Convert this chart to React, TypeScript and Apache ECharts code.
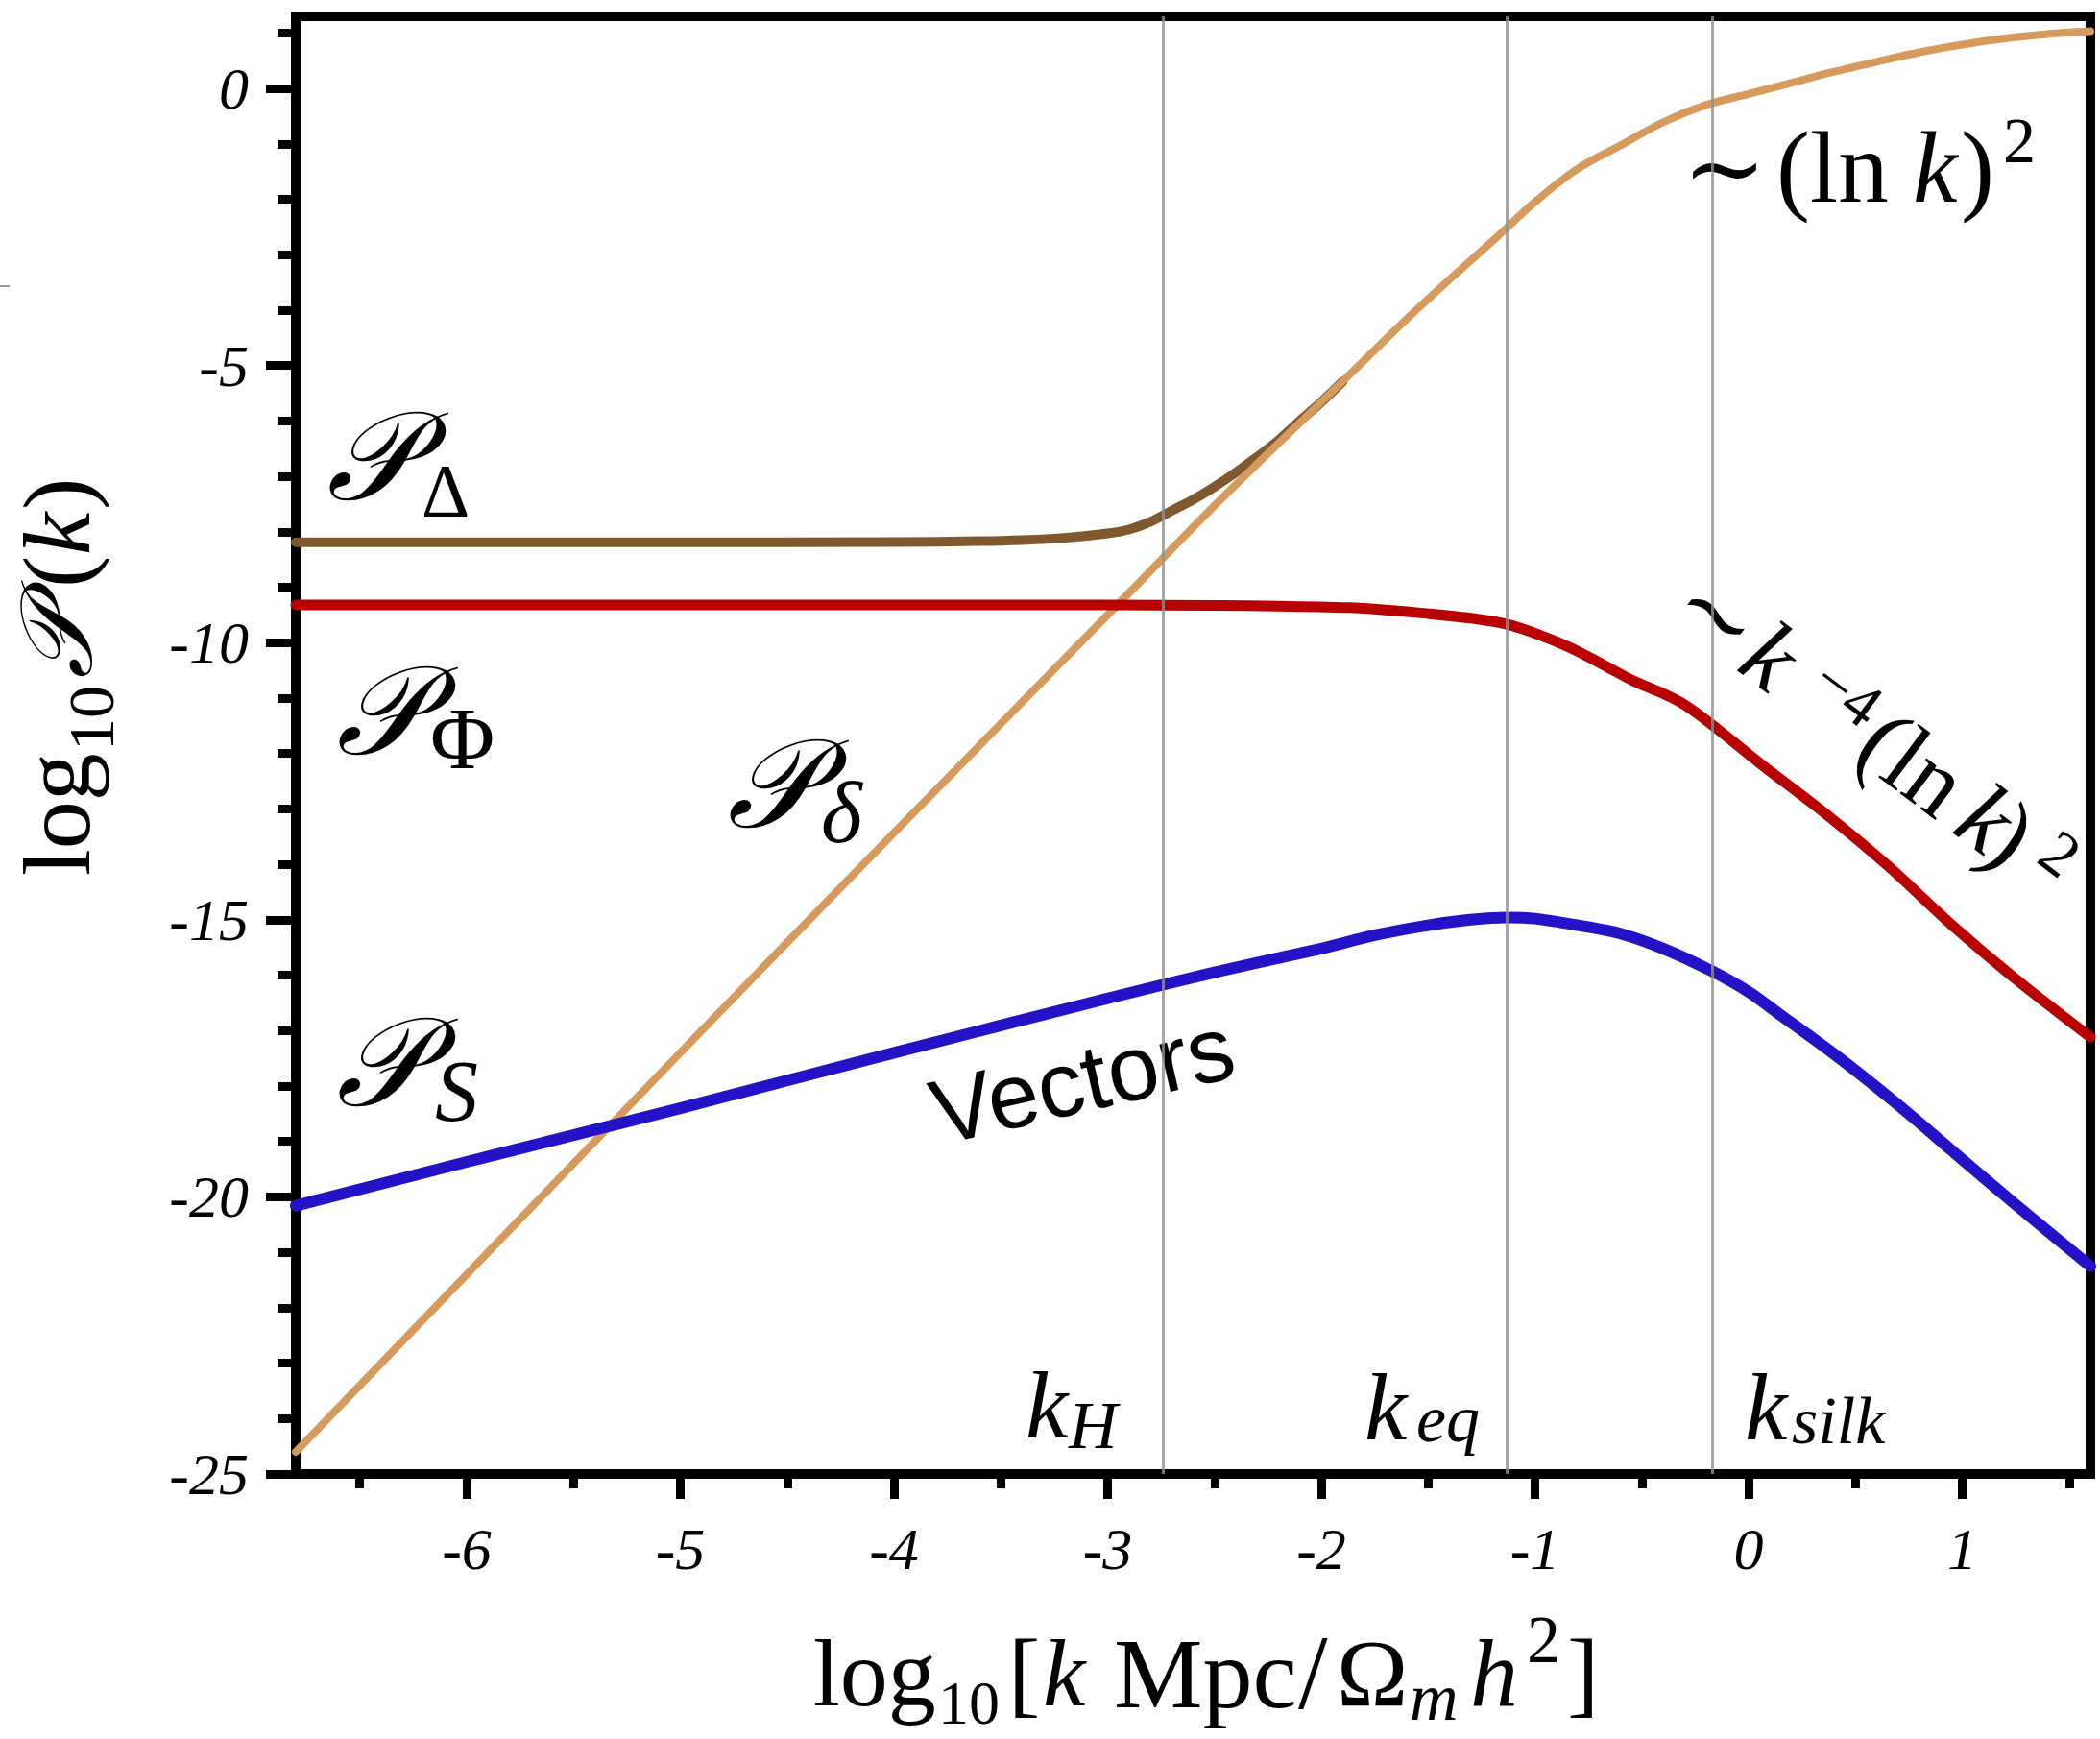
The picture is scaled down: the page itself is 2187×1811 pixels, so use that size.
import React, { useEffect, useRef } from "react";
import * as echarts from "echarts";

const W = 2187;
const H = 1811;

// Axis ranges and ticks
const xMin = -6.8;
const xMax = 1.6;
const yMin = -25;
const yMax = 1.3;
const xMajorTicks = [-6, -5, -4, -3, -2, -1, 0, 1];
const xMinorTicks = [-6.5, -5.5, -4.5, -3.5, -2.5, -1.5, -0.5, 0.5, 1.5];
const yMajorTicks = [-25, -20, -15, -10, -5, 0];
const yMinorTicks = [-24, -23, -22, -21, -19, -18, -17, -16, -14, -13, -12, -11, -9, -8, -7, -6, -4, -3, -2, -1, 1];

// Characteristic scales: k_H, k_eq, k_silk
const kScales = [-2.74, -1.13, -0.17];

// P_delta (density contrast)
const deltaK = [-6.8, -6, -5, -4, -3, -2.5, -2, -1.8, -1.6, -1.4, -1.2, -1.0, -0.8, -0.6, -0.4, -0.2, 0, 0.2, 0.4, 0.6, 0.8, 1.0, 1.2, 1.4, 1.6];
const deltaP = [-24.6, -21.4, -17.4, -13.43, -9.5, -7.53, -5.66, -4.91, -4.16, -3.45, -2.76, -2.05, -1.45, -1.03, -0.61, -0.3, -0.1, 0.1, 0.3, 0.48, 0.65, 0.79, 0.9, 0.98, 1.03];

// P_Delta
const bigDeltaK = [-6.8, -5, -4, -3.6, -3.4, -3.2, -3.0, -2.9, -2.8, -2.7, -2.6, -2.5, -2.4, -2.3, -2.2, -2.1, -2.0, -1.9];
const bigDeltaP = [-8.19, -8.19, -8.185, -8.17, -8.15, -8.11, -8.03, -7.96, -7.82, -7.62, -7.42, -7.19, -6.93, -6.65, -6.35, -6.0, -5.66, -5.29];

// P_Phi
const phiK = [-6.8, -5, -4, -3, -2.5, -2.2, -1.87, -1.7, -1.52, -1.3, -1.13, -0.98, -0.83, -0.68, -0.54, -0.4, -0.3, -0.175, 0.054, 0.355, 0.656, 0.953, 1.25, 1.6];
const phiP = [-9.32, -9.32, -9.32, -9.32, -9.33, -9.34, -9.37, -9.41, -9.47, -9.56, -9.67, -9.86, -10.1, -10.4, -10.69, -10.92, -11.12, -11.47, -12.18, -13.07, -14.04, -15.1, -16.07, -17.12];

// P_S (vectors)
const vecK = [-6.8, -6, -5, -4, -3, -2.5, -2, -1.75, -1.5, -1.3, -1.13, -1.0, -0.8, -0.6, -0.4, -0.175, 0, 0.15, 0.35, 0.5, 0.75, 0.953, 1.25, 1.6];
const vecP = [-20.16, -19.37, -18.4, -17.4, -16.42, -15.95, -15.52, -15.28, -15.1, -15.0, -14.96, -14.98, -15.1, -15.25, -15.52, -15.92, -16.3, -16.72, -17.28, -17.72, -18.5, -19.17, -20.14, -21.25];

const SERIF = '"Liberation Serif", "Times New Roman", "DejaVu Serif", serif';
const SCRIPT_P = "\u{1D4AB}";

const zip = (xs: number[], ys: number[]) => xs.map((x, i) => [x, ys[i]]);

const font = (size: number, italic = false, family = SERIF) =>
  `${italic ? "italic " : ""}${size}px ${family}`;

const t = (text: string, x: number, y: number, size: number, italic = false): any => ({
  type: "text",
  x,
  y,
  silent: true,
  style: {
    text,
    font: font(size, italic),
    fill: "#000",
    align: "left",
    verticalAlign: "middle",
    textAlign: "left",
    textVerticalAlign: "middle",
  },
});

export default function App() {
  const ref = useRef<HTMLDivElement>(null);

  useEffect(() => {
    document.body.style.margin = "0";
    if (!ref.current) return;
    const chart = echarts.init(ref.current, null, { renderer: "svg" });

    const tickStyle = { color: "#000", width: 9 };
    const labelStyle = {
      fontFamily: SERIF,
      fontStyle: "italic",
      fontSize: 62,
      color: "#000",
    };

    const graphic: any[] = [
      { type: "line", silent: true, shape: { x1: 0, y1: 298, x2: 10, y2: 298 }, style: { stroke: "#999", lineWidth: 2 } },
      // P_Delta
      t(SCRIPT_P, 340, 476, 130, true),
      t("Δ", 439, 510, 78),
      // P_Phi
      t(SCRIPT_P, 350, 741, 130, true),
      t("Φ", 448, 769, 92),
      // P_S
      t(SCRIPT_P, 350, 1107, 130, true),
      t("S", 453, 1136, 90, true),
      // P_delta
      t(SCRIPT_P, 757, 817, 130, true),
      t("δ", 855, 846, 92, true),
      // Vectors
      {
        type: "text",
        x: 1127,
        y: 1124,
        rotation: (13 * Math.PI) / 180,
        silent: true,
        style: {
          text: "Vectors",
          font: '96px "Liberation Sans", Arial, Helvetica, sans-serif',
          fill: "#000",
          align: "center",
          verticalAlign: "middle",
          textAlign: "center",
          textVerticalAlign: "middle",
        },
      },
      // ~ (ln k)^2
      t("∼", 1752, 175, 105),
      t("(ln", 1850, 174, 105),
      t("k", 1992, 174, 105, true),
      t(")", 2042, 174, 105),
      t("2", 2086, 146, 68),
      // ~ k^-4 (ln k)^2 rotated
      {
        type: "group",
        x: 1771,
        y: 639,
        rotation: (-37 * Math.PI) / 180,
        children: [
          t("∼", -27, -9, 100),
          t("k", 63, -9, 100, true),
          t("−4", 137, -27, 66),
          t("(ln", 215, -9, 100),
          t("k", 344, -9, 100, true),
          t(")", 381, -9, 100),
          t("2", 433, -26, 66),
        ],
      },
      // scale labels
      t("k", 1068, 1463, 100, true),
      t("H", 1113, 1484, 70, true),
      t("k", 1421, 1465, 100, true),
      t("eq", 1475, 1477, 70, true),
      t("k", 1817, 1465, 100, true),
      t("silk", 1866, 1479, 70, true),
      // x axis title
      t("log", 847, 1742, 100),
      t("10", 977, 1773, 64),
      t("[", 1050, 1742, 100),
      t("k", 1086, 1742, 100, true),
      t("Mpc", 1160, 1742, 104),
      t("/", 1352, 1742, 110),
      t("Ω", 1392, 1742, 100),
      t("m", 1468, 1767, 70, true),
      t("h", 1531, 1742, 100, true),
      t("2", 1590, 1707, 70),
      t("]", 1632, 1742, 100),
      // y axis title
      {
        type: "group",
        x: 93,
        y: 912,
        rotation: Math.PI / 2,
        children: [
          t("log", 0, -34, 100),
          t("10", 130, 2, 68),
          t(SCRIPT_P, 205, -34, 105, true),
          t("(", 300, -34, 100),
          t("k", 334, -34, 100, true),
          t(")", 381, -34, 100),
        ],
      },
    ];

    const lineSeries = (name: string, xs: number[], ys: number[], color: string, width: number, z: number, extra: any = {}) => ({
      type: "line",
      name,
      data: zip(xs, ys),
      xAxisIndex: 0,
      yAxisIndex: 0,
      showSymbol: false,
      symbol: "none",
      smooth: 0.3,
      silent: true,
      z,
      lineStyle: { color, width, cap: "round", join: "round" },
      ...extra,
    });

    const hiddenLine = { show: false, onZero: false };

    const option: any = {
      animation: false,
      backgroundColor: "#fff",
      grid: {
        left: 308,
        right: W - 2177,
        top: 17,
        bottom: H - 1535,
        show: true,
        borderColor: "#000",
        borderWidth: 10,
        backgroundColor: "transparent",
        containLabel: false,
      },
      xAxis: [
        {
          type: "value",
          min: xMin,
          max: xMax,
          position: "bottom",
          axisLine: hiddenLine,
          splitLine: { show: false },
          axisTick: { show: true, length: 26, customValues: xMajorTicks, lineStyle: tickStyle },
          axisLabel: { show: true, customValues: xMajorTicks, margin: 47, ...labelStyle, formatter: (v: number) => String(v) },
        },
        {
          type: "value",
          min: xMin,
          max: xMax,
          position: "bottom",
          axisLine: hiddenLine,
          splitLine: { show: false },
          axisTick: { show: true, length: 15, customValues: xMinorTicks, lineStyle: tickStyle },
          axisLabel: { show: false },
        },
      ],
      yAxis: [
        {
          type: "value",
          min: yMin,
          max: yMax,
          position: "left",
          axisLine: hiddenLine,
          splitLine: { show: false },
          axisTick: { show: true, length: 31, customValues: yMajorTicks, lineStyle: tickStyle },
          axisLabel: { show: true, customValues: yMajorTicks, margin: 49, padding: [16, 0, 0, 0], ...labelStyle, formatter: (v: number) => String(v) },
        },
        {
          type: "value",
          min: yMin,
          max: yMax,
          position: "left",
          axisLine: hiddenLine,
          splitLine: { show: false },
          axisTick: { show: true, length: 19, customValues: yMinorTicks, lineStyle: tickStyle },
          axisLabel: { show: false },
        },
      ],
      series: [
        lineSeries("P_Delta", bigDeltaK, bigDeltaP, "#80582E", 10, 2),
        lineSeries("P_delta", deltaK, deltaP, "#D69A5C", 8, 3),
        lineSeries("P_Phi", phiK, phiP, "#B80000", 11, 4),
        lineSeries("P_S", vecK, vecP, "#2412C6", 12, 5, {
          markLine: {
            silent: true,
            z: 10,
            symbol: ["none", "none"],
            label: { show: false },
            lineStyle: { color: "#909090", width: 3, type: "solid", opacity: 0.8 },
            data: kScales.map((v) => ({ xAxis: v })),
          },
        }),
      ],
      graphic,
    };

    chart.setOption(option);
    return () => {
      chart.dispose();
    };
  }, []);

  return <div ref={ref} style={{ width: W, height: H, background: "#fff" }} />;
}
